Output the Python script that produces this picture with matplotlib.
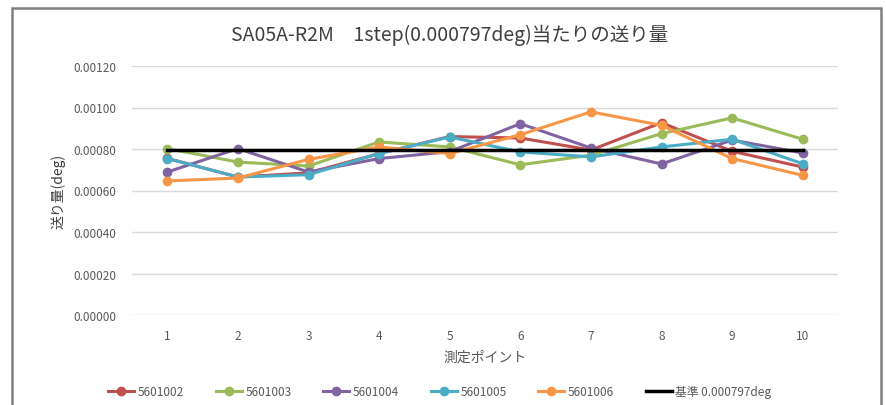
import matplotlib.pyplot as plt
from matplotlib.patches import Rectangle
from matplotlib.ticker import FormatStrFormatter

plt.rcParams['font.family'] = ['Noto Sans CJK JP', 'DejaVu Sans']

# measurement points
points = [1, 2, 3, 4, 5, 6, 7, 8, 9, 10]

# feed per step (deg)
s5601002 = [0.000755, 0.000665, 0.000685, 0.000778, 0.000860, 0.000853, 0.000795, 0.000927, 0.000789, 0.000713]
s5601003 = [0.000802, 0.000737, 0.000718, 0.000834, 0.000810, 0.000724, 0.000770, 0.000874, 0.000950, 0.000847]
s5601004 = [0.000689, 0.000802, 0.000689, 0.000754, 0.000787, 0.000922, 0.000805, 0.000728, 0.000843, 0.000781]
s5601005 = [0.000754, 0.000665, 0.000676, 0.000778, 0.000858, 0.000786, 0.000762, 0.000810, 0.000847, 0.000729]
s5601006 = [0.000646, 0.000660, 0.000750, 0.000810, 0.000778, 0.000869, 0.000979, 0.000914, 0.000754, 0.000673]
reference = 0.000797

series = [
    ('5601002', s5601002, '#C0504D'),
    ('5601003', s5601003, '#9BBB59'),
    ('5601004', s5601004, '#8064A2'),
    ('5601005', s5601005, '#4BACC6'),
    ('5601006', s5601006, '#F79646'),
]

fig = plt.figure(figsize=(8.87, 4.06), dpi=100)
ax = fig.add_axes([132 / 887, 1 - 316 / 406, (838 - 132) / 887, (316 - 67) / 406])

# chart frame
fig.patches.append(Rectangle((12 / 887, -0.05), (881 - 12) / 887, 1.05 - 9 / 406,
                             transform=fig.transFigure, fill=False,
                             edgecolor='#7F7F7F', linewidth=1.8))

for name, vals, col in series:
    ax.plot(points, vals, color=col, linewidth=2.2, marker='o', markersize=6,
            label=name, zorder=3)
ax.plot(points, [reference] * len(points), color='black', linewidth=2.5,
        label='基準 0.000797deg', zorder=4)

ax.set_xlim(0.5, 10.5)
ax.set_ylim(0, 0.0012)
ax.set_yticks([0, 0.0002, 0.0004, 0.0006, 0.0008, 0.0010, 0.0012])
ax.yaxis.set_major_formatter(FormatStrFormatter('%.5f'))
ax.set_xticks(points)
ax.grid(axis='y', color='#D9D9D9', linewidth=1)
ax.set_axisbelow(True)
for sp in ax.spines.values():
    sp.set_visible(False)
ax.tick_params(length=0, labelsize=8.5, labelcolor='#595959')
ax.tick_params(axis='y', pad=11)
ax.tick_params(axis='x', pad=10)

fig.text(450 / 887, 1 - 35 / 406, 'SA05A-R2M　1step(0.000797deg)当たりの送り量',
         fontsize=14, color='#404040', ha='center', va='center')
ax.set_xlabel('測定ポイント', fontsize=10, color='#595959', labelpad=6)
ax.set_ylabel('送り量(deg)', fontsize=10, color='#404040', labelpad=6)

ax.legend(loc='upper center', bbox_to_anchor=(0.436, -0.24), ncol=6, frameon=False,
          fontsize=8.5, handlelength=2.2, columnspacing=2.7, handletextpad=0.3,
          labelcolor='#595959')

fig.savefig('out.png', dpi=100)
